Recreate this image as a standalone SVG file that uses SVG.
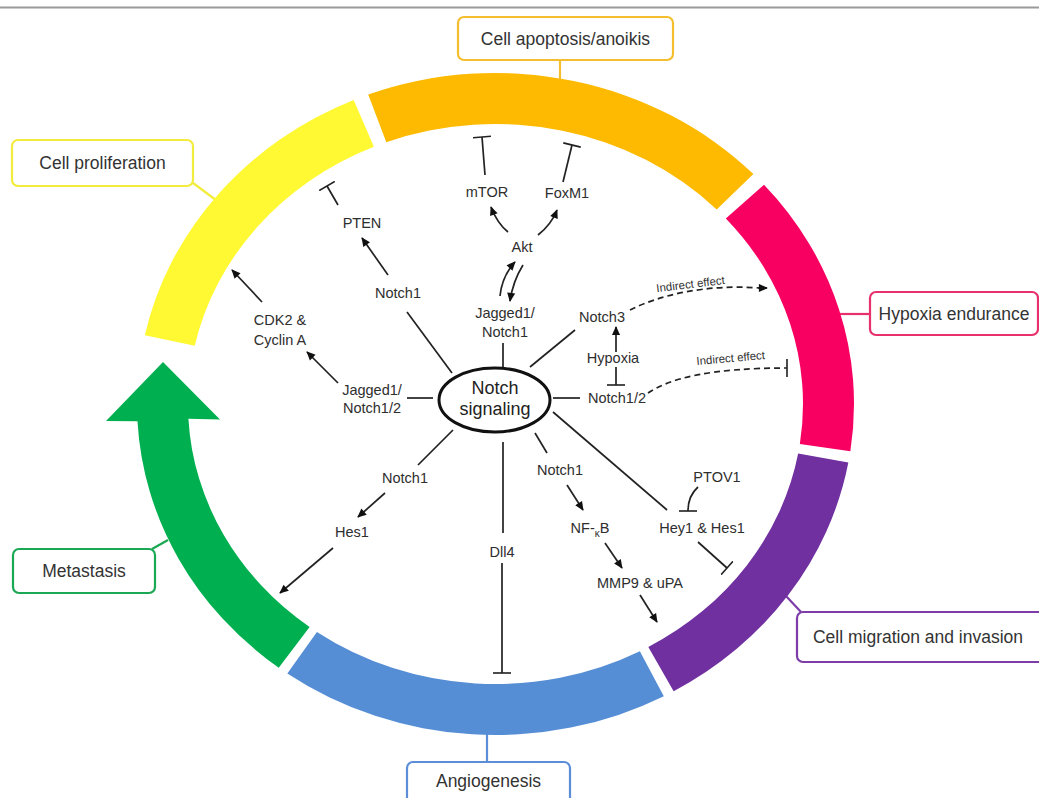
<svg xmlns="http://www.w3.org/2000/svg" width="1039" height="798" viewBox="0 0 1039 798">
<style>
.t{font-family:"Liberation Sans",Arial,sans-serif;font-size:14.5px;fill:#2e2e2e;text-anchor:middle}
.lb{font-family:"Liberation Sans",Arial,sans-serif;font-size:17.5px;fill:#333;text-anchor:middle}
.ie{font-family:"Liberation Sans",Arial,sans-serif;font-size:11.5px;fill:#333;text-anchor:middle}
.ln{stroke:#222;stroke-width:1.7;fill:none}
.ar{stroke:#222;stroke-width:1.7;fill:none;marker-end:url(#ah)}
.in{stroke:#222;stroke-width:1.7;fill:none;marker-end:url(#bar)}
.ds{stroke:#222;stroke-width:1.7;fill:none;stroke-dasharray:6 4}
.box{fill:#fff;stroke-width:2.2}
</style>
<defs>
<marker id="ah" viewBox="0 0 10 10" refX="9" refY="5" markerWidth="10" markerHeight="9" markerUnits="userSpaceOnUse" orient="auto"><path d="M0,0.5 L10,5 L0,9.5 z" fill="#111"/></marker>
<marker id="bar" viewBox="0 0 4 20" refX="2" refY="10" markerWidth="4" markerHeight="18" markerUnits="userSpaceOnUse" orient="auto"><path d="M2,0 L2,20" stroke="#222" stroke-width="1.8"/></marker>
</defs>
<rect width="1039" height="798" fill="#fff"/>
<line x1="0" y1="7.5" x2="1039" y2="7.5" stroke="#9a9a9a" stroke-width="2"/>

<g id="label-connectors" stroke-width="2.2">
<line x1="560" y1="60" x2="560" y2="80" stroke="#F5BE2E"/>
<line x1="193" y1="183" x2="228" y2="209" stroke="#F2EC3C"/>
<line x1="840" y1="314" x2="870" y2="314" stroke="#E8306C"/>
<line x1="786" y1="596" x2="801" y2="612" stroke="#7D3CA8"/>
<line x1="152" y1="549" x2="168" y2="540" stroke="#1BA854"/>
<line x1="487" y1="733" x2="487" y2="762" stroke="#5B8ED6"/>
</g>

<g id="ring">
<path id="seg-proliferation" d="M144.85,335.18 A358.5,331 0 0 1 353.71,100.0 L373.88,146.85 A307.5,280 0 0 0 194.73,345.79 Z" fill="#FFF933"/>
<path id="seg-apoptosis" d="M368.20,94.58 A358.5,331 0 0 1 753.37,174.05 L716.68,209.48 A307.5,280 0 0 0 386.31,142.26 Z" fill="#FDBA00"/>
<path id="seg-hypoxia" d="M764.02,184.68 A358.5,331 0 0 1 850.34,451.21 L799.86,443.94 A307.5,280 0 0 0 725.82,218.47 Z" fill="#F70062"/>
<path id="seg-migration" d="M848.34,462.61 A358.5,331 0 0 1 673.66,691.23 L648.32,646.98 A307.5,280 0 0 0 798.14,453.58 Z" fill="#7030A0"/>
<path id="seg-angiogenesis" d="M663.81,696.26 A358.5,331 0 0 1 287.32,673.47 L316.93,631.95 A307.5,280 0 0 0 639.86,651.23 Z" fill="#558ED5"/>
<path id="seg-metastasis" d="M278.75,667.65 A358.5,331 0 0 1 137.49,421.32 L106,421 L163,362 L220,419.5 L188.42,418.66 A307.5,280 0 0 0 309.59,627.03 Z" fill="#00B050"/>
</g>

<g id="label-apoptosis"><rect class="box" x="458" y="17" width="215" height="43" rx="6" stroke="#F5BE2E"/><text class="lb" x="565.5" y="45">Cell apoptosis/anoikis</text></g>
<g id="label-proliferation"><rect class="box" x="12" y="140" width="181" height="46" rx="6" stroke="#F2EC3C"/><text class="lb" x="102.5" y="169">Cell proliferation</text></g>
<g id="label-hypoxia"><rect class="box" x="870" y="292" width="168" height="43" rx="6" stroke="#E8306C"/><text class="lb" x="954" y="320">Hypoxia endurance</text></g>
<g id="label-migration"><rect class="box" x="797" y="612" width="250" height="50" rx="6" stroke="#7D3CA8"/><text class="lb" x="918" y="643">Cell migration and invasion</text></g>
<g id="label-metastasis"><rect class="box" x="13" y="549" width="142" height="44" rx="6" stroke="#1BA854"/><text class="lb" x="84" y="577">Metastasis</text></g>
<g id="label-angiogenesis"><rect class="box" x="407" y="762" width="163" height="50" rx="6" stroke="#5B8ED6"/><text class="lb" x="488.5" y="787">Angiogenesis</text></g>

<g id="connectors">
<line class="ln" x1="503" y1="343" x2="503" y2="368"/>
<line class="ln" x1="452" y1="373" x2="407" y2="312"/>
<line class="ln" x1="407" y1="398" x2="433" y2="398"/>
<line class="ln" x1="453" y1="430" x2="418" y2="465"/>
<line class="ln" x1="503" y1="442" x2="503" y2="533"/>
<line class="ln" x1="535" y1="433" x2="547" y2="453"/>
<line class="ln" x1="553" y1="412" x2="667" y2="510"/>
<line class="ln" x1="553" y1="398" x2="580" y2="398"/>
<line class="ln" x1="530" y1="367" x2="575" y2="330"/>
<path class="ar" d="M500,296 Q502,276 515,262"/>
<path class="ar" d="M523,265 Q513,281 510,301"/>
<path class="ar" d="M508,232 Q497,223 491,207"/>
<path class="ar" d="M538,235 Q551,225 557,210"/>
<path class="in" d="M485,175 L482,137"/>
<path class="in" d="M563,182 L572,145"/>
<path class="ar" d="M388,275 L362,238"/>
<path class="in" d="M338,205 L327,186"/>
<path class="ar" d="M338,383 L307,352"/>
<path class="ar" d="M262,302 L232,270"/>
<path class="ar" d="M385,493 L358,517"/>
<path class="ar" d="M333,548 L280,593"/>
<path class="in" d="M502,563 L502,673"/>
<path class="ar" d="M567,485 L583,510"/>
<path class="ar" d="M605,543 L622,568"/>
<path class="ar" d="M640,595 L657,622"/>
<path class="in" d="M698,487 Q688,496 688,511"/>
<path class="in" d="M698,542 L727,568"/>
<path class="ar" d="M616,352 L616,327"/>
<path class="in" d="M616,367 L616,385"/>
<path class="ds" d="M630,310 C660,295 705,284 760,288" />
<path class="ar" d="M758,288 L767,288"/>
<path class="ds" d="M648,393 C670,378 712,368 787,368" marker-end="url(#bar)"/>
<text class="ie" x="691" y="288" transform="rotate(-7 691 288)">Indirect effect</text>
<text class="ie" x="731" y="362" transform="rotate(-5 731 362)">Indirect effect</text>
</g>

<g id="notch-signaling"><ellipse cx="494.5" cy="400" rx="55.5" ry="32" fill="#fff" stroke="#111" stroke-width="3"/><text class="lb" x="495" y="394" style="font-size:18px;fill:#222">Notch</text><text class="lb" x="495" y="415" style="font-size:18px;fill:#222">signaling</text></g>
<g id="n-jagged1-notch1"><text class="t" x="505" y="318">Jagged1/</text><text class="t" x="505" y="337">Notch1</text></g>
<g id="n-akt"><text class="t" x="522" y="252">Akt</text></g>
<g id="n-mtor"><text class="t" x="487" y="197">mTOR</text></g>
<g id="n-foxm1"><text class="t" x="567" y="198">FoxM1</text></g>
<g id="n-notch3"><text class="t" x="602" y="322">Notch3</text></g>
<g id="n-hypoxia"><text class="t" x="613" y="363">Hypoxia</text></g>
<g id="n-notch12"><text class="t" x="617" y="403">Notch1/2</text></g>
<g id="n-notch1-ul"><text class="t" x="398" y="298">Notch1</text></g>
<g id="n-pten"><text class="t" x="362" y="228">PTEN</text></g>
<g id="n-jagged1-notch12"><text class="t" x="372" y="395">Jagged1/</text><text class="t" x="372" y="413">Notch1/2</text></g>
<g id="n-cdk2"><text class="t" x="280" y="325">CDK2 &amp;</text><text class="t" x="280" y="345">Cyclin A</text></g>
<g id="n-notch1-ll"><text class="t" x="405" y="483">Notch1</text></g>
<g id="n-hes1"><text class="t" x="352" y="537">Hes1</text></g>
<g id="n-dll4"><text class="t" x="502" y="557">Dll4</text></g>
<g id="n-notch1-lr"><text class="t" x="560" y="475">Notch1</text></g>
<g id="n-nfkb"><text class="t" x="590" y="533">NF-<tspan font-size="10" dy="4">κ</tspan><tspan dy="-4">B</tspan></text></g>
<g id="n-mmp9"><text class="t" x="640" y="588">MMP9 &amp; uPA</text></g>
<g id="n-hey1"><text class="t" x="702" y="533">Hey1 &amp; Hes1</text></g>
<g id="n-ptov1"><text class="t" x="717" y="482">PTOV1</text></g>
</svg>
